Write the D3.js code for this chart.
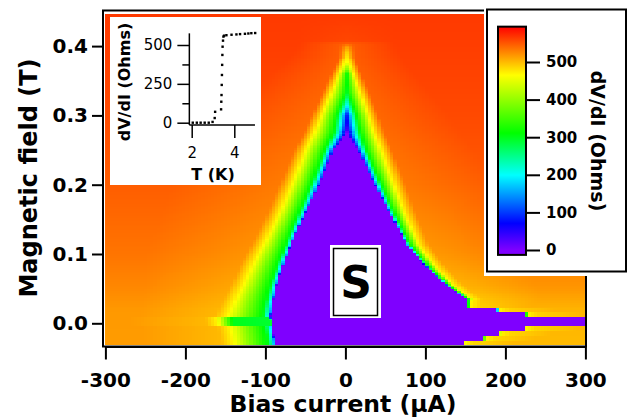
<!DOCTYPE html>
<meta charset="utf-8">
<style>
body { margin: 0; background: #fff; }
svg text { font-family: "DejaVu Sans", sans-serif; fill: #000; }
g.axis path, g.axis line { stroke: #000; stroke-width: 2px; }
g.axis text { font-weight: bold; font-size: 20px; }
g.bar.axis text { font-size: 15px; }
g.inset.axis path, g.inset.axis line { stroke-width: 1.5px; }
g.inset.axis text { font-weight: normal; font-size: 15px; }
rect.cell { shape-rendering: crispEdges; }
</style>
<body>
<div id="map"></div>
<script src="https://cdn.jsdelivr.net/npm/d3@7"></script>
<script>
// dV/dI map: magnetic field vs bias current, with R(T) inset

// Axis ticks
var currentTicks = [-300, -200, -100, 0, 100, 200, 300];   // uA
var fieldTicks = [0.0, 0.1, 0.2, 0.3, 0.4];                 // T
var barTicks = [0, 100, 200, 300, 400, 500];                // Ohms

// Extent of the measured map
var currentRange = [-300, 300];
var fieldRange = [-0.031, 0.446];
var currentStep = 4;      // uA per column
var fieldRows = 190;

// Colour table (Ohms -> colour)
var colourStops = [-13, 0, 71, 199, 311, 465, 594];
var colourList = ["#8000ff", "#7f00ff", "#0000ff", "#00ffff", "#00ff00", "#ffff00", "#ff0000"];

// Resistance on the V line (I ~ apex) above the critical field
var apexI = 2;
var centreB = [0.275, 0.279, 0.29, 0.30, 0.306, 0.313, 0.322, 0.332, 0.36, 0.367, 0.377, 0.39, 0.40, 0.406, 0.446];
var centreR = [0, 40, 70, 90, 140, 200, 250, 300, 325, 400, 465, 490, 520, 558, 565];

// Critical current (edge of the 0 Ohm region), left side
var edgeLeftB = [-0.031, -0.002, 0.0095, 0.03, 0.055, 0.09, 0.127, 0.16, 0.20, 0.25, 0.275];
var edgeLeftI = [-88, -92, -94, -91, -86, -76, -63, -50, -33, -15, 2];

// right side: rows near zero field read one by one, then a smooth edge
var stepRowB = [-0.0255, -0.018, -0.0097, -0.0022, 0.0097, 0.0165, 0.022, 0.036];
var stepRowI = [147, 172, 191, 222, 298, 224, 189, 152, NaN];
var edgeRightB = [0.036, 0.055, 0.08, 0.113, 0.16, 0.20, 0.25, 0.275];
var edgeRightI = [150, 126, 102, 77, 55, 37, 16, 2];

// Distance (uA) from the edge to the 300 Ohm (green) and 470 Ohm (yellow) contours
var greenLeftB = [-0.031, 0.03, 0.1, 0.16, 0.2, 0.25, 0.275, 0.30, 0.332];
var greenLeftD = [8, 8, 6, 7, 9, 10, 16, 12, 0];
var yellowLeftB = [-0.031, 0.0095, 0.055, 0.127, 0.16, 0.2, 0.25, 0.275, 0.30, 0.332, 0.36, 0.385];
var yellowLeftD = [52, 54, 42, 33, 32, 34, 35, 41, 32, 20, 10, 0];
var greenRightB = [-0.031, 0.036, 0.1, 0.16, 0.2, 0.25, 0.275, 0.30, 0.332];
var greenRightD = [1, 2, 3, 5, 7, 9, 16, 11, 0];
var yellowRightB = [-0.031, 0.022, 0.036, 0.055, 0.08, 0.113, 0.16, 0.2, 0.25, 0.275, 0.30, 0.332, 0.36, 0.385];
var yellowRightD = [3, 4, 7, 9, 12, 15, 19, 24, 29, 34, 27, 17, 8, 0];

// Resistance just outside the edge
var jumpB = [-0.031, 0.15, 0.25, 0.275];
var jumpR = [150, 150, 85, 60];

// Normal state background, reached in two stages beyond the yellow contour
var backB = [-0.031, 0.02, 0.05, 0.1, 0.2, 0.3, 0.4, 0.446];
var backLeftR = [515, 517, 525, 535, 547, 556, 563, 565];
var backRightR = [500, 503, 518, 532, 548, 557, 563, 565];
var nearLeftD = [15, 15, 15, 15, 15, 12, 8, 8];
var farLeftD = [110, 110, 120, 140, 150, 120, 60, 60];
var nearRightD = [12, 12, 12, 12, 14, 12, 8, 8];
var farRightD = [60, 70, 100, 120, 130, 100, 60, 60];
var nearDrop = 15;

// Green band of the zero field rows (left)
var spikeBand = [-0.0022, 0.0097];
var spikeLeft = [290, 47, 67];     // jump, green distance, yellow distance

// Inset: R(T)
var insetT = [2.05, 2.24, 2.42, 2.61, 2.80, 2.98, 3.08, 3.10, 3.38, 3.39, 3.40, 3.41, 3.42, 3.43, 3.44, 3.45, 3.47, 3.49, 3.52, 3.63, 3.87, 4.10, 4.27, 4.50, 4.66, 4.80, 4.98];
var insetR = [0, 0, 0, 0, 0, 5, 30, 70, 86, 135, 178, 243, 307, 372, 436, 489, 528, 554, 560, 563, 566, 568, 570, 572, 574, 576, 577];
var insetTTicks = [2, 4];
var insetRTicks = [0, 250, 500];
var insetRMinor = [125, 375];

var outerWidth = 628;
var outerHeight = 418;

var plot = {};
plot.svg = d3.select("#map").append("svg")
    .attr("width", outerWidth)
    .attr("height", outerHeight);

// Scales
plot.x = d3.scaleLinear().domain([-300, 300]).range([105.4, 585.4]);
plot.y = d3.scaleLinear().domain([0, 0.4]).range([323.3, 46.1]);
plot.colour = d3.scaleLinear().domain(colourStops).range(colourList).clamp(true);

var lin = function (b, v) { return d3.scaleLinear().domain(b).range(v).clamp(true); };
var centreScale = lin(centreB, centreR);
var edgeLeft = lin(edgeLeftB, edgeLeftI);
var edgeRight = lin(edgeRightB, edgeRightI);
var stepRight = d3.scaleThreshold().domain(stepRowB).range(stepRowI);
var greenLeft = lin(greenLeftB, greenLeftD), yellowLeft = lin(yellowLeftB, yellowLeftD);
var greenRight = lin(greenRightB, greenRightD), yellowRight = lin(yellowRightB, yellowRightD);
var jumpScale = lin(jumpB, jumpR);
var backLeft = lin(backB, backLeftR), backRight = lin(backB, backRightR);
var nearLeft = lin(backB, nearLeftD), farLeft = lin(backB, farLeftD);
var nearRight = lin(backB, nearRightD), farRight = lin(backB, farRightD);

function profile(d, pts) {
  for (var k = 1; k < pts.length; k++) {
    if (d <= pts[k][0]) {
      var t = (d - pts[k-1][0]) / (pts[k][0] - pts[k-1][0]);
      return pts[k-1][1] + t * (pts[k][1] - pts[k-1][1]);
    }
  }
  return pts[pts.length-1][1];
}

function resistance(I, B) {
  var rc = centreScale(B);
  var right, edge;
  if (rc > 0) {
    right = I >= apexI;
    edge = apexI;
  } else {
    var eL = edgeLeft(B);
    var eR = stepRight(B);
    if (isNaN(eR)) eR = edgeRight(B);
    if (I >= eL && I <= eR) return 0;
    right = I > eR;
    edge = right ? eR : eL;
  }
  var d = right ? I - edge : edge - I;
  var jump = jumpScale(B), dG, dY, near, far, bg;
  if (right) {
    dG = greenRight(B); dY = yellowRight(B); near = nearRight(B); far = farRight(B); bg = backRight(B);
  } else {
    dG = greenLeft(B); dY = yellowLeft(B); near = nearLeft(B); far = farLeft(B); bg = backLeft(B);
    if (B >= spikeBand[0] && B < spikeBand[1]) { jump = spikeLeft[0]; dG = spikeLeft[1]; dY = spikeLeft[2]; }
  }
  var pts = [];
  if (rc > 0) pts.push([0, rc]);
  else { pts.push([0, 0]); pts.push([0.8, jump]); }
  if (rc < 300 && dG > 0.9) pts.push([dG, 300]);
  if (rc < 470 && dY > Math.max(dG, 0.9)) pts.push([dY, 470]);
  var base = Math.max(dY, 1);
  if (rc < bg - nearDrop) pts.push([base + near, bg - nearDrop]);
  pts.push([base + far, bg]);
  return profile(d, pts);
}

// Build the cells, merging runs of equal colour along a row
var cells = [];
var rowStep = (fieldRange[1] - fieldRange[0]) / fieldRows;
for (var row = 0; row < fieldRows; row++) {
  var b0 = fieldRange[0] + row * rowStep;
  var run = null;
  for (var i0 = currentRange[0]; i0 < currentRange[1]; i0 += currentStep) {
    var c = plot.colour(resistance(i0 + currentStep / 2, b0 + rowStep / 2));
    if (run && run.c === c) { run.i1 = i0 + currentStep; }
    else { run = {i0: i0, i1: i0 + currentStep, b0: b0, b1: b0 + rowStep, c: c}; cells.push(run); }
  }
}

plot.svg.append("g").attr("class", "heatmap")
  .selectAll("rect.cell")
  .data(cells)
  .join("rect")
    .attr("class", "cell")
    .attr("x", function (d) { return plot.x(d.i0); })
    .attr("y", function (d) { return plot.y(d.b1); })
    .attr("width", function (d) { return plot.x(d.i1) - plot.x(d.i0); })
    .attr("height", function (d) { return plot.y(d.b0) - plot.y(d.b1); })
    .attr("fill", function (d) { return d.c; });

// Frame
plot.svg.append("rect")
  .attr("x", 103).attr("y", 10.5).attr("width", 483).attr("height", 336)
  .attr("fill", "none").attr("stroke", "#000").attr("stroke-width", 2);

// Axes (plain hyphen for negative labels)
plot.svg.append("g").attr("class", "x axis")
  .attr("transform", "translate(0,346.5)")
  .call(d3.axisBottom(plot.x).tickValues(currentTicks).tickFormat(function (d) { return String(d); })
    .tickSize(13).tickPadding(13).tickSizeOuter(0));

plot.svg.append("g").attr("class", "y axis")
  .attr("transform", "translate(103,0)")
  .call(d3.axisLeft(plot.y).tickValues(fieldTicks).tickFormat(d3.format(".1f")).tickSize(11).tickPadding(4).tickSizeOuter(0))
  .select(".domain").remove();

plot.svg.append("text")
  .attr("x", 343).attr("y", 412)
  .attr("text-anchor", "middle")
  .style("font-weight", "bold").style("font-size", "23.5px")
  .text("Bias current (\u00b5A)");

plot.svg.append("text")
  .attr("transform", "translate(37,178) rotate(-90)")
  .attr("text-anchor", "middle")
  .style("font-weight", "bold").style("font-size", "24px")
  .text("Magnetic field (T)");

// "S" label
plot.svg.append("rect").attr("x", 330).attr("y", 245).attr("width", 51).attr("height", 73).attr("fill", "#fff");
plot.svg.append("rect").attr("x", 333.5).attr("y", 248.5).attr("width", 44).attr("height", 67)
  .attr("fill", "none").attr("stroke", "#000").attr("stroke-width", 1.5);
plot.svg.append("text")
  .attr("x", 356).attr("y", 298)
  .attr("text-anchor", "middle")
  .style("font-weight", "bold").style("font-size", "44px")
  .text("S");

// Colour bar
var bar = {};
bar.y = d3.scaleLinear().domain([0, 500]).range([250, 62]);
plot.svg.append("rect").attr("x", 484).attr("y", 6).attr("width", 144).attr("height", 270).attr("fill", "#fff");
plot.svg.append("rect").attr("x", 487).attr("y", 9.5).attr("width", 139).attr("height", 262)
  .attr("fill", "#fff").attr("stroke", "#000").attr("stroke-width", 2);

var grad = plot.svg.append("defs").append("linearGradient")
  .attr("id", "bargrad").attr("x1", 0).attr("y1", 0).attr("x2", 0).attr("y2", 1);
var barTop = colourStops[colourStops.length - 1], barBottom = colourStops[0];
grad.selectAll("stop")
  .data(colourStops.map(function (v, i) { return {v: v, c: colourList[i]}; }).reverse())
  .join("stop")
    .attr("offset", function (d) { return (barTop - d.v) / (barTop - barBottom); })
    .attr("stop-color", function (d) { return d.c; });

plot.svg.append("rect")
  .attr("x", 498).attr("y", bar.y(barTop))
  .attr("width", 28).attr("height", bar.y(barBottom) - bar.y(barTop))
  .attr("fill", "url(#bargrad)").attr("stroke", "#000").attr("stroke-width", 2);

plot.svg.append("g").attr("class", "bar axis")
  .attr("transform", "translate(526,0)")
  .call(d3.axisRight(bar.y).tickValues(barTicks).tickSize(14).tickPadding(6).tickSizeOuter(0))
  .select(".domain").remove();

plot.svg.append("text")
  .attr("transform", "translate(591,141) rotate(90)")
  .attr("text-anchor", "middle")
  .style("font-weight", "bold").style("font-size", "19px")
  .text("dV/dI (Ohms)");

// Inset R(T)
var inset = {};
inset.x = d3.scaleLinear().domain([2, 4]).range([191.7, 234.3]);
inset.y = d3.scaleLinear().domain([0, 500]).range([122.7, 45]);

plot.svg.append("rect").attr("x", 110).attr("y", 17).attr("width", 151).attr("height", 168).attr("fill", "#fff");

plot.svg.append("line")
  .attr("x1", inset.x(1.89)).attr("x2", inset.x(1.89))
  .attr("y1", inset.y(-15)).attr("y2", inset.y(575))
  .attr("stroke", "#000").attr("stroke-width", 1.5);
plot.svg.append("line")
  .attr("x1", inset.x(1.89)).attr("x2", inset.x(4.97))
  .attr("y1", inset.y(-15)).attr("y2", inset.y(-15))
  .attr("stroke", "#000").attr("stroke-width", 1.5);

plot.svg.append("g").attr("class", "inset axis")
  .attr("transform", "translate(" + inset.x(1.89) + ",0)")
  .call(d3.axisLeft(inset.y).tickValues(insetRTicks).tickSize(12).tickPadding(5))
  .select(".domain").remove();
plot.svg.append("g").attr("class", "inset axis")
  .attr("transform", "translate(" + inset.x(1.89) + ",0)")
  .call(d3.axisLeft(inset.y).tickValues(insetRMinor).tickSize(7).tickFormat(""))
  .select(".domain").remove();
plot.svg.append("g").attr("class", "inset axis")
  .attr("transform", "translate(0," + inset.y(-15) + ")")
  .call(d3.axisBottom(inset.x).tickValues(insetTTicks).tickFormat(d3.format("d")).tickSize(13).tickPadding(9))
  .select(".domain").remove();

plot.svg.append("g").selectAll("rect.pt")
  .data(insetT.map(function (t, i) { return [t, insetR[i]]; }))
  .join("rect")
    .attr("class", "pt")
    .attr("x", function (d) { return inset.x(d[0]) - 1.2; })
    .attr("y", function (d) { return inset.y(d[1]) - 1.2; })
    .attr("width", 2.4).attr("height", 2.4)
    .attr("fill", "#000");

plot.svg.append("text")
  .attr("x", 213).attr("y", 180)
  .attr("text-anchor", "middle")
  .style("font-weight", "bold").style("font-size", "16px")
  .text("T (K)");

plot.svg.append("text")
  .attr("transform", "translate(130,82) rotate(-90)")
  .attr("text-anchor", "middle")
  .style("font-weight", "bold").style("font-size", "16px")
  .text("dV/dI (Ohms)");
</script>
